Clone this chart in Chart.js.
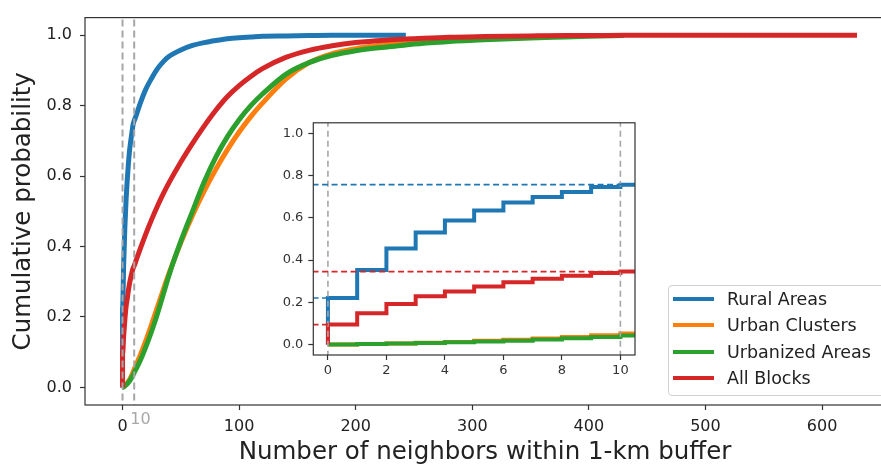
<!DOCTYPE html>
<html>
<head>
<meta charset="utf-8">
<script src="https://cdn.jsdelivr.net/npm/chart.js@4.4.1/dist/chart.umd.min.js"></script>
<style>
  html, body { margin: 0; padding: 0; background: #fff; }
  #wrap { position: relative; width: 881px; height: 465px; overflow: hidden; font-family: 'DejaVu Sans', sans-serif; }
  #main { position: absolute; left: 0; top: 0; }
  #inset { position: absolute; left: 270px; top: 110px; }
  #legend {
    position: absolute; left: 668px; top: 285px; width: 230px; height: 105px;
    padding: 0 0 4px 0; border: 1px solid #d0d0d0; border-radius: 4px;
    background: rgba(255,255,255,0.85);
  }
  .row { display: flex; align-items: center; height: 26.3px; }
  .swatch { width: 41px; height: 4px; margin: 0 13px 0 4px; }
  .label { font-size: 17.5px; color: #222; white-space: nowrap; }
</style>
</head>
<body>
<div id="wrap">
  <canvas id="main" width="890" height="465"></canvas>
  <canvas id="inset" width="380" height="275"></canvas>
  <div id="legend"></div>
</div>
<script>
const FONT = "'DejaVu Sans', sans-serif";

const seriesNames = ['Rural Areas', 'Urban Clusters', 'Urbanized Areas', 'All Blocks'];
const seriesColors = ['#1f77b4', '#ff7f0e', '#2ca02c', '#d62728'];

// CDF at 0..10 neighbours (shown in the inset as steps)
const stepX = [0, 1, 2, 3, 4, 5, 6, 7, 8, 9, 10];
const ruralSteps     = [0.22, 0.353, 0.455, 0.53, 0.587, 0.634, 0.672, 0.699, 0.722, 0.746, 0.757];
const clusterSteps   = [0, 0.002, 0.005, 0.008, 0.012, 0.017, 0.022, 0.028, 0.035, 0.043, 0.052];
const urbanizedSteps = [0, 0.002, 0.004, 0.007, 0.010, 0.014, 0.018, 0.023, 0.029, 0.035, 0.042];
const allSteps       = [0.094, 0.148, 0.192, 0.228, 0.251, 0.275, 0.295, 0.311, 0.325, 0.338, 0.345];

// rest of the CDF (main panel), null = series already ended
const tailX = [12, 15, 20, 25, 30, 35, 40, 50, 60, 70, 80, 90, 100, 110, 120, 140, 160, 180, 200, 225, 243,
               250, 280, 310, 350, 380, 400, 430, 450, 500, 560, 630];
const ruralTail = [0.775, 0.805, 0.847, 0.878, 0.905, 0.925, 0.94, 0.958, 0.971, 0.979, 0.985, 0.99, 0.993, 0.995,
                   0.997, 0.998, 0.999, 1.0, 1.0, 1.0, 1.0,
                   null, null, null, null, null, null, null, null, null, null, null];
const clusterTail = [0.067, 0.09, 0.133, 0.18, 0.229, 0.278, 0.325, 0.411, 0.488, 0.557, 0.619, 0.675, 0.725, 0.769,
                     0.807, 0.875, 0.922, 0.948, 0.962, 0.973, 0.979, 0.981, 0.988, 0.992, 0.996, 0.998,
                     null, null, null, null, null, null];
const urbanizedTail = [0.055, 0.075, 0.115, 0.16, 0.21, 0.265, 0.32, 0.415, 0.5, 0.583, 0.654, 0.712, 0.76, 0.8,
                       0.833, 0.889, 0.922, 0.943, 0.956, 0.966, 0.972, 0.975, 0.982, 0.987, 0.992, 0.995, 0.997,
                       0.999, null, null, null, null];
const allTail = [0.364, 0.392, 0.436, 0.477, 0.515, 0.55, 0.582, 0.64, 0.693, 0.742, 0.787, 0.826, 0.857, 0.883,
                 0.905, 0.937, 0.957, 0.97, 0.979, 0.986, 0.989, 0.99, 0.994, 0.996, 0.998, 0.999, 0.999,
                 1.0, 1.0, 1.0, 1.0, 1.0];

const mainXTicks = [0, 100, 200, 300, 400, 500, 600];
const insetXTicks = [0, 2, 4, 6, 8, 10];
const probTicks = [0, 0.2, 0.4, 0.6, 0.8, 1.0];
const markedX = [0, 10];   // grey dashed reference lines

const mainXRange = [-32.2, 654];
const insetXRange = [-0.5, 10.5];
const probRange = [-0.05, 1.05];

const allSteps_ = [ruralSteps, clusterSteps, urbanizedSteps, allSteps];
const allTails = [ruralTail, clusterTail, urbanizedTail, allTail];

function fullCurve(steps, tail) {
    const pts = [{ x: stepX[0], y: 0 }];
    stepX.forEach((x, i) => pts.push({ x: x, y: steps[i] }));
    tailX.forEach((x, i) => { if (tail[i] !== null) pts.push({ x: x, y: tail[i] }); });
    return pts;
}

function stepCurve(steps) {
    const pts = [{ x: stepX[0], y: 0 }];
    stepX.forEach((x, i) => pts.push({ x: x, y: steps[i] }));
    pts.push({ x: insetXRange[1] + 0.2, y: steps[steps.length - 1] });
    return pts;
}

// white plot background + box around the plot area
const framePlugin = {
    id: 'frame',
    beforeDraw(chart) {
        const a = chart.chartArea, ctx = chart.ctx;
        ctx.save();
        ctx.fillStyle = '#fff';
        ctx.fillRect(a.left, a.top, a.right - a.left, a.bottom - a.top);
        ctx.restore();
    },
    afterDraw(chart) {
        const a = chart.chartArea, ctx = chart.ctx;
        ctx.save();
        ctx.strokeStyle = '#333';
        ctx.lineWidth = 1.2;
        ctx.strokeRect(a.left, a.top, a.right - a.left, a.bottom - a.top);
        ctx.restore();
    }
};

// grey "10" under the second reference line
const markLabelPlugin = {
    id: 'markLabel',
    afterDraw(chart) {
        const ctx = chart.ctx, x = chart.scales.x.getPixelForValue(markedX[1]);
        ctx.save();
        ctx.font = '16px ' + FONT;
        ctx.fillStyle = '#a8a8a8';
        ctx.textAlign = 'left';
        ctx.textBaseline = 'alphabetic';
        ctx.fillText(String(markedX[1]), x - 4, 423.5);
        ctx.restore();
    }
};

function tickGrid() {
    return { display: true, drawOnChartArea: false, drawTicks: true, tickLength: 5, tickColor: '#333', tickWidth: 1.2 };
}

// ---- main panel
const mainSets = seriesNames.map((name, i) => ({
    label: name,
    data: fullCurve(allSteps_[i], allTails[i]),
    borderColor: seriesColors[i],
    borderWidth: 5,
    pointRadius: 0,
    showLine: true,
    cubicInterpolationMode: 'monotone',
    order: 4 - i
}));
markedX.forEach(x => mainSets.push({
    label: 'ref',
    data: [{ x: x, y: -0.1 }, { x: x, y: 1.1 }],
    borderColor: '#a6a6a6',
    borderWidth: 2,
    borderDash: [7, 4],
    pointRadius: 0,
    showLine: true,
    clip: 0,
    order: 0
}));

new Chart(document.getElementById('main'), {
    type: 'scatter',
    data: { datasets: mainSets },
    options: {
        responsive: false,
        animation: false,
        devicePixelRatio: 1,
        layout: { padding: { top: 13, right: 5, left: 0, bottom: 0 } },
        plugins: { legend: { display: false }, tooltip: { enabled: false } },
        scales: {
            x: {
                type: 'linear', min: mainXRange[0], max: mainXRange[1],
                afterBuildTicks: s => { s.ticks = mainXTicks.map(v => ({ value: v })); },
                afterFit: s => { s.height = 60; },
                grid: tickGrid(), border: { display: false },
                ticks: { font: { family: FONT, size: 16 }, color: '#222', padding: 7, maxRotation: 0, callback: v => String(v) },
                title: { display: true, text: 'Number of neighbors within 1-km buffer', color: '#222',
                         font: { family: FONT, size: 24.5, lineHeight: 1 }, padding: { top: 0, bottom: 0 } }
            },
            y: {
                type: 'linear', min: probRange[0], max: probRange[1],
                afterBuildTicks: s => { s.ticks = probTicks.map(v => ({ value: v })); },
                afterFit: s => { s.width = 85; },
                grid: tickGrid(), border: { display: false },
                ticks: { font: { family: FONT, size: 16 }, color: '#222', padding: 8, callback: v => v.toFixed(1) },
                title: { display: true, text: 'Cumulative probability', color: '#222',
                         font: { family: FONT, size: 24.5, lineHeight: 1 }, padding: { top: 11, bottom: 0 } }
            }
        }
    },
    plugins: [framePlugin, markLabelPlugin]
});

// ---- inset (first 10 neighbours)
const insetSets = seriesNames.map((name, i) => ({
    label: name,
    data: stepCurve(allSteps_[i]),
    borderColor: seriesColors[i],
    borderWidth: 4,
    pointRadius: 0,
    showLine: true,
    stepped: 'before',
    order: 5 - i
}));
// dashed guides at the value for 0 and for 10 neighbours
[0, 3].forEach(i => {
    const s = allSteps_[i];
    insetSets.push({
        data: [{ x: insetXRange[0] - 1, y: s[s.length - 1] }, { x: insetXRange[1] + 1, y: s[s.length - 1] }],
        borderColor: seriesColors[i], borderWidth: 1.6, borderDash: [6, 3.5],
        pointRadius: 0, showLine: true, clip: 0, order: 0
    });
    insetSets.push({
        data: [{ x: insetXRange[0] - 1, y: s[0] }, { x: stepX[0], y: s[0] }],
        borderColor: seriesColors[i], borderWidth: 1.6, borderDash: [6, 3.5],
        pointRadius: 0, showLine: true, clip: 0, order: 0
    });
});
markedX.forEach(x => insetSets.push({
    data: [{ x: x, y: -0.2 }, { x: x, y: 1.2 }],
    borderColor: '#a6a6a6', borderWidth: 1.6, borderDash: [6, 4],
    pointRadius: 0, showLine: true, clip: 0, order: 0
}));

new Chart(document.getElementById('inset'), {
    type: 'scatter',
    data: { datasets: insetSets },
    options: {
        responsive: false,
        animation: false,
        devicePixelRatio: 1,
        layout: { padding: { top: 10, right: 15, left: 0, bottom: 0 } },
        plugins: { legend: { display: false }, tooltip: { enabled: false } },
        scales: {
            x: {
                type: 'linear', min: insetXRange[0], max: insetXRange[1],
                afterBuildTicks: s => { s.ticks = insetXTicks.map(v => ({ value: v })); },
                afterFit: s => { s.height = 30; },
                grid: tickGrid(), border: { display: false },
                ticks: { font: { family: FONT, size: 13 }, color: '#333', padding: 3, maxRotation: 0, callback: v => String(v) }
            },
            y: {
                type: 'linear', min: probRange[0], max: probRange[1],
                afterBuildTicks: s => { s.ticks = probTicks.map(v => ({ value: v })); },
                afterFit: s => { s.width = 43.3; },
                grid: tickGrid(), border: { display: false },
                ticks: { font: { family: FONT, size: 13 }, color: '#333', padding: 5, callback: v => v.toFixed(1) }
            }
        }
    },
    plugins: [framePlugin]
});

// ---- legend
const legend = document.getElementById('legend');
seriesNames.forEach((name, i) => {
    const row = document.createElement('div');
    row.className = 'row';
    row.innerHTML = `<div class="swatch" style="background:${seriesColors[i]}"></div><span class="label">${name}</span>`;
    legend.appendChild(row);
});
</script>
</body>
</html>
